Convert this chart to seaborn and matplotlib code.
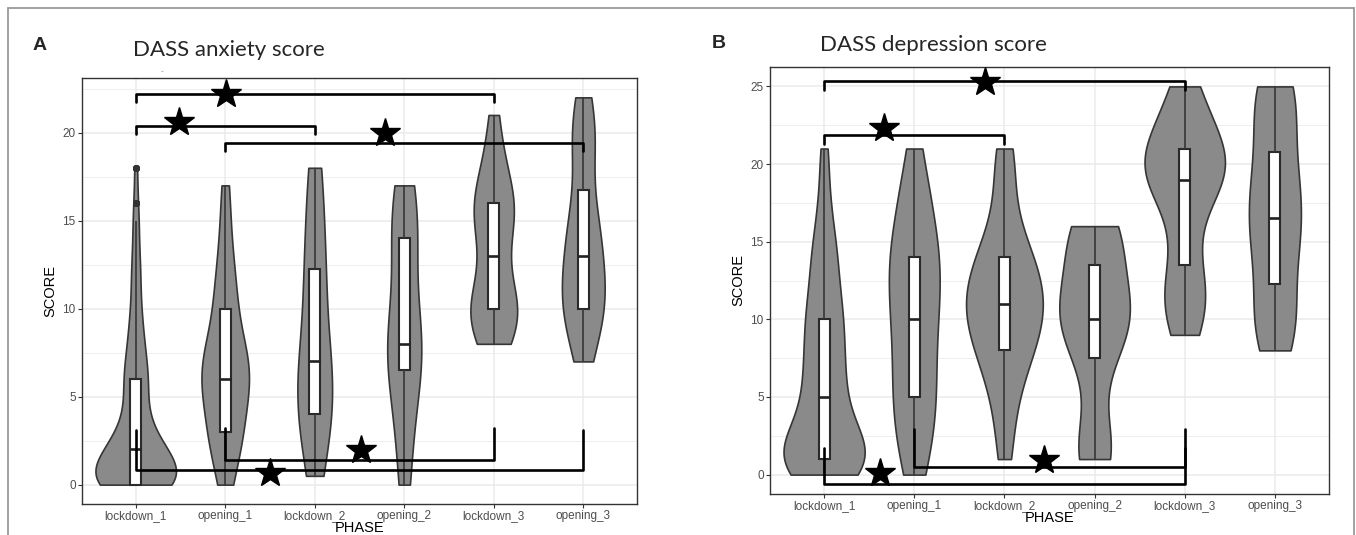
import numpy as np
import pandas as pd
import matplotlib
matplotlib.use("Agg")
import matplotlib.pyplot as plt
from matplotlib.lines import Line2D
import seaborn as sns

# ---------------- data ----------------
phases = ["lockdown_1", "opening_1", "lockdown_2", "opening_2", "lockdown_3", "opening_3"]

# DASS anxiety: first phase given as score -> number of respondents, later phases as raw scores
anx_lockdown_1_scores = [0, 1, 2, 3, 4, 5, 6, 7, 8, 9, 10, 11, 12, 13, 14, 15, 16, 18]
anx_lockdown_1_counts = [84, 52, 44, 20, 16, 12, 20, 12, 12, 8, 8, 4, 8, 4, 4, 4, 4, 4]
anx_opening_1 = [0, 1, 2, 3, 3, 3, 3, 5, 5, 6, 6, 6, 6, 7, 7, 7, 8, 8, 10, 10, 11, 12, 13, 15, 17]
anx_lockdown_2 = [0.5, 3, 4, 4, 6, 7, 7, 10, 12, 13, 16, 18]
anx_opening_2 = [0, 3, 5, 7, 8, 8, 8, 11, 14, 14, 16, 17]
anx_lockdown_3 = [8, 8, 9, 9, 10, 10, 10, 10, 11, 12, 13, 14, 15, 15, 16, 16, 16, 17, 18, 19, 21]
anx_opening_3 = [7, 8, 9, 10, 10, 10, 11, 11, 12, 13, 13, 14, 15, 15, 16, 19, 19, 20, 21, 22]

# DASS depression
dep_lockdown_1_scores = [0, 1, 2, 3, 4, 5, 6, 7, 8, 9, 10, 11, 12, 13, 14, 15, 16, 17, 18, 20, 21]
dep_lockdown_1_counts = [16, 20, 12, 8, 6, 6, 6, 6, 6, 4, 8, 4, 4, 4, 4, 4, 2, 2, 2, 2, 2]
dep_opening_1 = [0, 1, 2, 3, 4, 5, 5, 6, 7, 8, 9, 10, 10, 11, 12, 13, 13, 14, 14, 15, 16, 17, 18, 19, 21]
dep_lockdown_2 = [1, 3, 5, 6, 7, 8, 8, 9, 9, 10, 10, 11, 11, 11, 12, 12, 13, 13, 14, 14, 15, 16, 18, 20, 21]
dep_opening_2 = [1, 1, 2, 2, 6, 8, 9, 9, 10, 10, 10, 11, 12, 12, 13, 15, 15, 16, 16, 16]
dep_lockdown_3 = [9, 10, 11, 12, 12, 14, 16, 18, 19, 19, 19, 20, 20, 20, 21, 21, 22, 23, 24, 25]
dep_opening_3 = [8, 9, 10, 10, 10, 13, 14, 15, 16, 16, 17, 18, 19, 20, 20, 23, 24, 24, 25, 25]

anx_yticks = [0, 5, 10, 15, 20]
dep_yticks = [0, 5, 10, 15, 20, 25]

# significance annotations: (from_index, to_index, bar_y, tick_end_y) and star positions
anx_brackets = [(0, 4, 22.2, 21.75), (0, 2, 20.35, 19.9), (1, 5, 19.4, 18.95),
                (1, 4, 1.42, 3.2), (0, 5, 0.85, 3.1)]
anx_stars = [(1.01, 22.2), (0.48, 20.6), (2.79, 20.0), (1.50, 0.66), (2.52, 1.95)]
dep_brackets = [(0, 4, 25.35, 24.75), (0, 2, 21.9, 21.3),
                (1, 4, 0.52, 2.95), (0, 4, -0.6, 1.7)]
dep_stars = [(1.79, 25.3), (0.66, 22.3), (2.44, 0.92), (0.62, 0.08)]


def make_df(groups):
    rows = []
    for ph, vals in zip(phases, groups):
        rows.extend((ph, v) for v in vals)
    return pd.DataFrame(rows, columns=["PHASE", "SCORE"])


def expand(scores, counts):
    return [s for s, c in zip(scores, counts) for _ in range(c)]


anx_df = make_df([expand(anx_lockdown_1_scores, anx_lockdown_1_counts), anx_opening_1,
                  anx_lockdown_2, anx_opening_2, anx_lockdown_3, anx_opening_3])
dep_df = make_df([expand(dep_lockdown_1_scores, dep_lockdown_1_counts), dep_opening_1,
                  dep_lockdown_2, dep_opening_2, dep_lockdown_3, dep_opening_3])

# ---------------- style ----------------
sns.set_theme(style="white")
plt.rcParams["font.family"] = ["Liberation Sans", "DejaVu Sans"]

W, H = 1356, 535
fig = plt.figure(figsize=(W / 100, H / 100), dpi=100)
fig.patch.set_facecolor("white")


def px_axes(x0, y0, x1, y1):
    return fig.add_axes([x0 / W, 1 - y1 / H, (x1 - x0) / W, (y1 - y0) / H])


def draw_panel(ax, df, yticks, ylim, brackets, stars):
    ax.set_axisbelow(True)
    sns.violinplot(data=df, x="PHASE", y="SCORE", order=phases, ax=ax, cut=0, inner=None,
                   density_norm="area", width=0.9, color="#8a8a8a", saturation=1,
                   linecolor="#363636", linewidth=1.2, bw_adjust=0.85)
    sns.boxplot(data=df, x="PHASE", y="SCORE", order=phases, ax=ax, width=0.12,
                color="white", saturation=1, linecolor="#2a2a2a", linewidth=1.5,
                showcaps=False, whis=1.5, fliersize=4,
                whiskerprops=dict(color="#363636", linewidth=1.2),
                medianprops=dict(color="#222222", linewidth=1.9),
                flierprops=dict(marker="o", markerfacecolor="#333333",
                                markeredgecolor="#333333"))
    for (i, j, yb, yt) in brackets:
        ax.plot([i, i, j, j], [yt, yb, yb, yt], color="black", lw=1.9,
                solid_joinstyle="round", solid_capstyle="round", zorder=6)
    for (sx, sy) in stars:
        ax.plot([sx], [sy], marker="*", ms=22, color="black", mec="black", zorder=7)
    ax.set_xlim(-0.6, 5.6)
    ax.set_ylim(*ylim)
    ax.set_yticks(yticks)
    minors = [t + 2.5 for t in yticks if t + 2.5 < ylim[1]]
    ax.set_yticks(minors, minor=True)
    ax.grid(True, which="major", color="#ebebeb", lw=1.1)
    ax.grid(True, which="minor", axis="y", color="#ebebeb", lw=0.6)
    ax.tick_params(axis="both", which="major", length=3, width=0.8, color="#333333",
                   labelsize=8.5, labelcolor="#4d4d4d", pad=1.5, bottom=True, left=True)
    ax.tick_params(axis="both", which="minor", length=0)
    for s in ax.spines.values():
        s.set_color("#333333")
        s.set_linewidth(1.0)
        s.set_visible(True)
    ax.set_xlabel("PHASE", fontsize=10.5, color="black", labelpad=-1)
    ax.set_ylabel("SCORE", fontsize=10.5, color="black", labelpad=4)


axA = px_axes(82, 78, 637, 504)
draw_panel(axA, anx_df, anx_yticks, (-1.1, 23.1), anx_brackets, anx_stars)

axB = px_axes(770, 67, 1329, 494)
draw_panel(axB, dep_df, dep_yticks, (-1.25, 26.25), dep_brackets, dep_stars)

# panel letters and titles
fig.text(40 / W, 1 - 45 / H, "A", fontsize=14, fontweight="bold", ha="center", va="center")
fig.text(133 / W, 1 - 50 / H, "DASS anxiety score", fontsize=16, family=["Lato", "DejaVu Sans"],
         ha="left", va="center")
fig.text(162 / W, 1 - 72 / H, "-", fontsize=6, color="#888888", ha="center", va="center")
fig.text(719 / W, 1 - 44 / H, "B", fontsize=14, fontweight="bold", ha="center", va="center")
fig.text(820 / W, 1 - 45 / H, "DASS depression score", fontsize=16, family=["Lato", "DejaVu Sans"],
         ha="left", va="center")

# outer frame (top, left, right)
for xs, ys in [([8, 1354], [8, 8]), ([8, 8], [8, 540]), ([1354, 1354], [8, 540])]:
    fig.add_artist(Line2D([x / W for x in xs], [1 - y / H for y in ys], color="#9a9a9a", lw=1.3))

fig.savefig("out.png", dpi=100)
